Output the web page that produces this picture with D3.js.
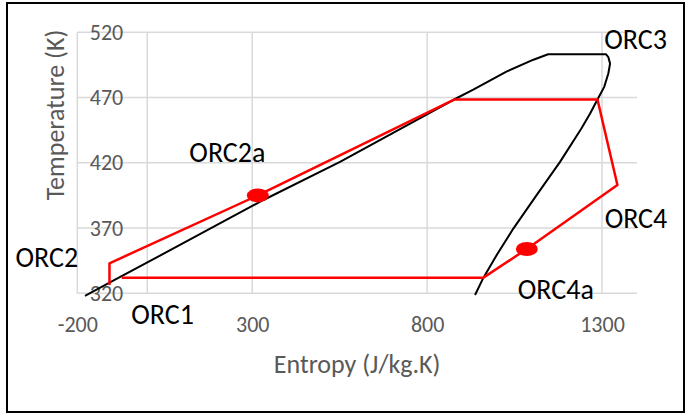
<!DOCTYPE html>
<html>
<head>
<meta charset="utf-8">
<script src="https://cdn.jsdelivr.net/npm/d3@7"></script>
<style>
  body { margin: 0; background: #fff; }
  svg text { font-family: Carlito, Calibri, Lato, sans-serif; }
</style>
</head>
<body>
<div id="container"></div>
<script>
// saturation dome (entropy, temperature)
var domeS = [-178, -100, 100, 332, 551, 877, 932, 1028, 1104, 1146, 1311, 1318, 1323, 1318, 1306, 1287, 1266, 1241, 1180, 1113, 1047, 999, 961, 937];
var domeT = [318, 329.3, 358, 391.5, 420.7, 468.5, 476, 490, 499, 503.2, 503.2, 501, 496, 488.4, 478, 468.5, 457.8, 446.3, 420.7, 395.2, 369.8, 349.3, 332, 318.7];

// ORC cycle
var cycleS = [-108, -108, 316, 877, 1287, 1344, 1085, 961, -73];
var cycleT = [326.4, 343, 395, 468.5, 468.5, 403, 354, 332, 332];

// marked state points
var markS = [316, 1085];
var markT = [395, 354];

// point labels, placed in chart units
var labelText = ["ORC1", "ORC2", "ORC2a", "ORC3", "ORC4", "ORC4a"];
var labelS = [44, -287, 229, 1396, 1397, 1168];
var labelT = [296.5, 340.4, 420.7, 507.5, 369.8, 315.6];

var xTicks = [-200, 300, 800, 1300];
var yTicks = [320, 370, 420, 470, 520];

var W = 686, H = 415;
var plotL = 77.3, plotR = 637, plotT = 32.3, plotB = 293.3;

var svg = d3.select("#container").append("svg")
	.attr("width", W)
	.attr("height", H);

// outer frame
svg.append("rect")
	.attr("x", 7).attr("y", 3)
	.attr("width", 677).attr("height", 409)
	.attr("fill", "none")
	.attr("stroke", "#000")
	.attr("stroke-width", 2);

var x = d3.scaleLinear().domain([-200, 1400]).range([plotL, plotR]);
var y = d3.scaleLinear().domain([320, 520]).range([plotB, plotT]);

var grid = svg.append("g").attr("stroke", "#d9d9d9").attr("stroke-width", 1.5);

// vertical gridlines + the value axis line sitting at s = 0
grid.selectAll(".vg")
	.data(xTicks.concat([0])).enter()
	.append("line")
		.attr("x1", function(d) { return x(d); })
		.attr("x2", function(d) { return x(d); })
		.attr("y1", y(520)).attr("y2", y(320));

grid.selectAll(".hg")
	.data(yTicks).enter()
	.append("line")
		.attr("x1", x(-200)).attr("x2", x(1400))
		.attr("y1", function(d) { return y(d); })
		.attr("y2", function(d) { return y(d); });

// axes (labels only, lines are drawn as grid)
var fmt = function(d) { return String(d); };
var xAxis = d3.axisBottom(x).tickValues(xTicks).tickFormat(fmt).tickSize(0).tickPadding(23);
var yAxis = d3.axisLeft(y).tickValues(yTicks).tickFormat(fmt).tickSize(0).tickPadding(24);

var gx = svg.append("g")
	.attr("transform", "translate(0," + plotB + ")")
	.call(xAxis);
var gy = svg.append("g")
	.attr("transform", "translate(" + x(0) + ",0)")
	.call(yAxis);

[gx, gy].forEach(function(g) {
	g.select(".domain").remove();
	g.selectAll("text")
		.style("font-family", "Carlito, Calibri, Lato, sans-serif")
		.style("font-size", "22px")
		.attr("fill", "#595959");
});

svg.append("text")
	.attr("x", (plotL + plotR) / 2)
	.attr("y", 373)
	.attr("text-anchor", "middle")
	.attr("fill", "#595959")
	.style("font-size", "26px")
	.text("Entropy (J/kg.K)");

svg.append("text")
	.attr("transform", "translate(64,115) rotate(-90)")
	.attr("text-anchor", "middle")
	.attr("fill", "#595959")
	.style("font-size", "26px")
	.text("Temperature (K)");

var line = d3.line()
	.x(function(d) { return x(d[0]); })
	.y(function(d) { return y(d[1]); });

svg.append("path")
	.datum(d3.zip(domeS, domeT))
	.attr("d", line)
	.attr("fill", "none")
	.attr("stroke", "#000")
	.attr("stroke-width", 2)
	.attr("stroke-linejoin", "round");

svg.append("path")
	.datum(d3.zip(cycleS, cycleT))
	.attr("d", line)
	.attr("fill", "none")
	.attr("stroke", "#ff0000")
	.attr("stroke-width", 2.5)
	.attr("stroke-linejoin", "round");

svg.selectAll(".mark")
	.data(d3.zip(markS, markT)).enter()
	.append("ellipse")
		.attr("class", "mark")
		.attr("cx", function(d) { return x(d[0]); })
		.attr("cy", function(d) { return y(d[1]); })
		.attr("rx", 11)
		.attr("ry", 7)
		.attr("fill", "#ff0000");

svg.selectAll(".lbl")
	.data(d3.zip(labelText, labelS, labelT)).enter()
	.append("text")
		.attr("class", "lbl")
		.attr("x", function(d) { return x(d[1]); })
		.attr("y", function(d) { return y(d[2]); })
		.attr("text-anchor", "middle")
		.attr("fill", "#000")
		.style("font-size", "28px")
		.text(function(d) { return d[0]; });
</script>
</body>
</html>
